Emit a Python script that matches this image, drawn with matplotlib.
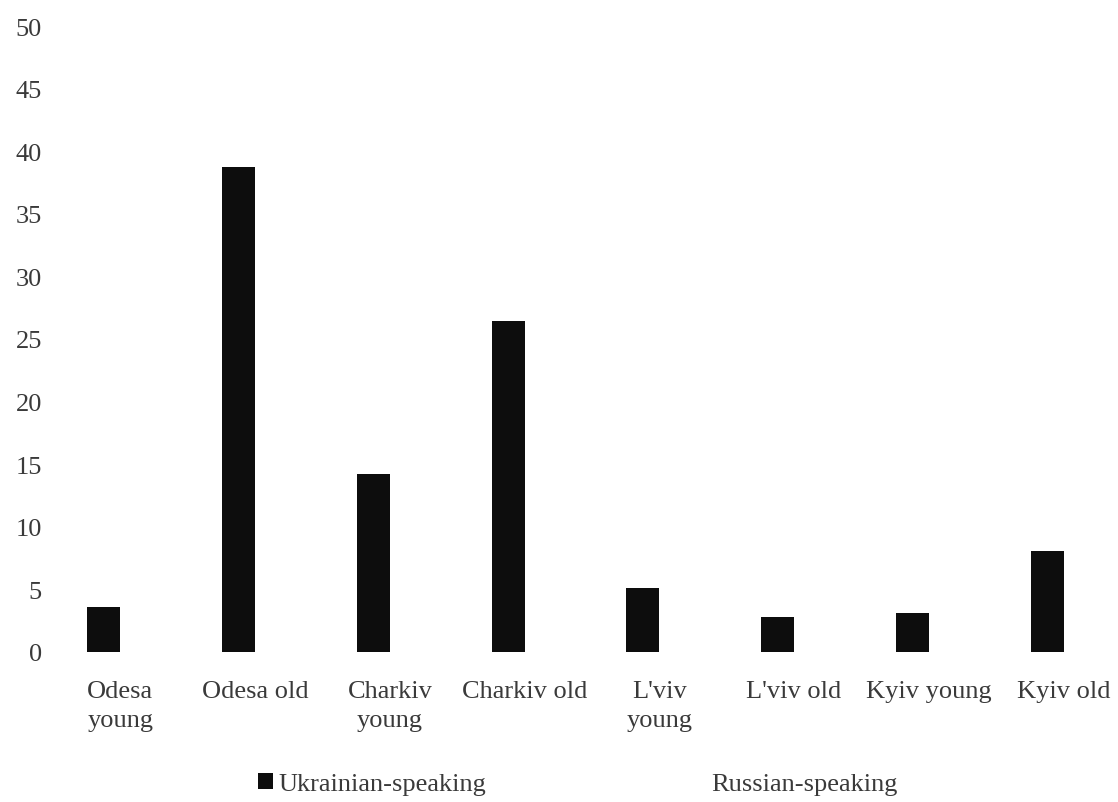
import matplotlib
matplotlib.use("Agg")
import matplotlib.pyplot as plt
import numpy as np

categories = ["Odesa\nyoung", "Odesa old", "Charkiv\nyoung", "Charkiv old",
              "L'viv\nyoung", "L'viv old", "Kyiv young", "Kyiv old"]
ukrainian = [3.6, 38.7, 14.2, 26.4, 5.1, 2.8, 3.1, 8.1]
russian = [0, 0, 0, 0, 0, 0, 0, 0]
yticks = [0, 5, 10, 15, 20, 25, 30, 35, 40, 45, 50]

plt.rcParams['font.family'] = ['Liberation Serif', 'DejaVu Serif']
txt = '#3a3a3a'
fs = 19

fig = plt.figure(figsize=(11.18, 8.03), dpi=100)
W, H = 1118, 803
ax = fig.add_axes([53 / W, (H - 653) / H, (1131 - 53) / W, (653 - 27) / H])

x = np.arange(len(categories))
bw = 0.245
ax.bar(x - bw / 2, ukrainian, bw, color='#0d0d0d', label='Ukrainian-speaking')
ax.bar(x + bw / 2, russian, bw, color='white', label='Russian-speaking')

ax.set_xlim(-0.5, len(categories) - 0.5)
ax.set_ylim(0, 50)
ax.set_yticks(yticks)
ax.set_yticklabels([str(v) for v in yticks], fontsize=fs, color=txt)
ax.set_xticks(x)
ax.set_xticklabels(categories, fontsize=fs, color=txt, linespacing=1.4, va='top')
ax.tick_params(axis='both', length=0)
ax.tick_params(axis='y', pad=8)
ax.tick_params(axis='x', pad=20)
for s in ax.spines.values():
    s.set_visible(False)

leg = fig.legend(loc='center', bbox_to_anchor=(578 / W, 1 - 785 / H), ncol=2,
                 frameon=False, fontsize=fs, handlelength=0.55, handleheight=0.55,
                 handletextpad=0.2, columnspacing=7.8)
for t in leg.get_texts():
    t.set_color(txt)

fig.savefig("out.png", dpi=100, facecolor='white')
